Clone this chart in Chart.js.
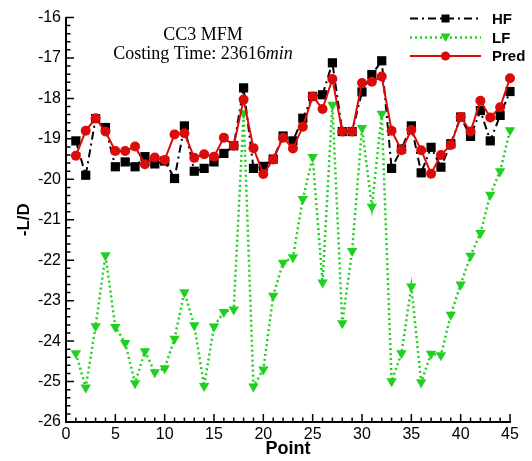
<!DOCTYPE html>
<html>
<head>
<meta charset="utf-8">
<script src="https://cdn.jsdelivr.net/npm/chart.js@4/dist/chart.umd.min.js"></script>
<style>
  body { margin: 0; background: #fff; }
  canvas { display: block; }
</style>
</head>
<body>
<canvas id="chart" width="532" height="461"></canvas>
<script>
// values, point 1..45
const points = Array.from({ length: 45 }, (_, i) => i + 1);
const hf = [-19.05, -19.9, -18.5, -18.72, -19.69, -19.57, -19.69, -19.44, -19.62, -19.55,
  -19.98, -18.68, -19.8, -19.73, -19.57, -19.36, -19.17, -17.74, -19.73, -19.68,
  -19.5, -18.93, -19.05, -18.49, -17.95, -17.91, -17.12, -18.82, -18.82, -17.84,
  -17.41, -17.07, -19.73, -19.25, -18.68, -19.84, -19.21, -19.7, -19.12, -18.46,
  -18.94, -18.3, -19.05, -18.42, -17.83];
const lf = [-24.3, -25.15, -23.63, -21.88, -23.65, -24.05, -25.04, -24.25, -24.77, -24.67,
  -23.94, -22.79, -23.61, -25.11, -23.64, -23.28, -23.22, -18.37, -25.12, -24.7,
  -22.88, -22.06, -21.93, -20.49, -19.45, -22.55, -18.16, -23.56, -21.77, -18.73,
  -20.68, -18.38, -24.99, -24.3, -22.65, -25.02, -24.31, -24.35, -23.35, -22.6,
  -21.89, -21.33, -20.38, -19.8, -18.79];
const pred = [-19.42, -18.8, -18.49, -18.82, -19.3, -19.3, -19.19, -19.63, -19.46, -19.52,
  -18.89, -18.86, -19.47, -19.38, -19.44, -18.97, -19.17, -18.03, -19.23, -19.87,
  -19.51, -18.97, -19.24, -18.7, -17.95, -18.26, -17.52, -18.82, -18.82, -17.62,
  -17.59, -17.46, -18.8, -19.28, -18.78, -19.28, -19.86, -19.4, -19.15, -18.46,
  -18.82, -18.06, -18.47, -18.22, -17.5];
const seriesNames = ['HF', 'LF', 'Pred'];
const titleLines = ['CC3 MFM', 'Costing Time: 23616', 'min'];

const BLACK = '#000000';
const GREEN = '#1fd01f';
const RED = '#dc0b0b';

const toXY = vals => vals.map((v, i) => ({ x: points[i], y: v }));

// inward major/minor ticks like the original plot
const tickPlugin = {
  id: 'inTicks',
  afterDraw(chart) {
    const { ctx, scales: { x, y } } = chart;
    ctx.save();
    ctx.strokeStyle = BLACK;
    ctx.lineWidth = 1.5;
    ctx.beginPath();
    for (let v = 0; v <= 45; v++) {
      const px = x.getPixelForValue(v);
      const len = v % 5 === 0 ? 8 : 4.5;
      ctx.moveTo(px, y.bottom);
      ctx.lineTo(px, y.bottom - len);
    }
    for (let k = 0; k <= 50; k++) {
      const v = -26 + k * 0.2;
      const py = y.getPixelForValue(v);
      const len = k % 5 === 0 ? 8 : 4.5;
      ctx.moveTo(x.left, py);
      ctx.lineTo(x.left + len, py);
    }
    ctx.stroke();
    ctx.restore();
  }
};

function drawMarker(ctx, style, cx, cy, r, color) {
  ctx.fillStyle = color;
  ctx.beginPath();
  if (style === 'rect') {
    ctx.rect(cx - r, cy - r, 2 * r, 2 * r);
  } else if (style === 'tri') {
    ctx.moveTo(cx - r, cy - r * 0.8);
    ctx.lineTo(cx + r, cy - r * 0.8);
    ctx.lineTo(cx, cy + r * 0.9);
    ctx.closePath();
  } else {
    ctx.arc(cx, cy, r, 0, Math.PI * 2);
  }
  ctx.fill();
}

const legendPlugin = {
  id: 'lineLegend',
  afterDraw(chart) {
    const { ctx } = chart;
    const rows = [
      { y: 18.5, color: BLACK, dash: [8, 4, 2, 4], width: 2, marker: 'rect', r: 4 },
      { y: 37.5, color: GREEN, dash: [2, 3], width: 2.5, marker: 'tri', r: 5 },
      { y: 56, color: RED, dash: [], width: 2, marker: 'circle', r: 4.5 }
    ];
    ctx.save();
    rows.forEach((row, i) => {
      ctx.strokeStyle = row.color;
      ctx.lineWidth = row.width;
      ctx.setLineDash(row.dash);
      ctx.beginPath();
      ctx.moveTo(410, row.y);
      ctx.lineTo(481, row.y);
      ctx.stroke();
      ctx.setLineDash([]);
      drawMarker(ctx, row.marker, 445.5, row.y, row.r, row.color);
      ctx.fillStyle = BLACK;
      ctx.font = 'bold 15px "Liberation Sans", Arial, sans-serif';
      ctx.textBaseline = 'middle';
      ctx.textAlign = 'left';
      ctx.fillText(seriesNames[i], 492, row.y + 1);
    });
    ctx.restore();
  }
};

const notePlugin = {
  id: 'note',
  afterDraw(chart) {
    const { ctx } = chart;
    const cx = 203;
    ctx.save();
    ctx.fillStyle = BLACK;
    ctx.textBaseline = 'alphabetic';
    const regular = '18px "Liberation Serif", "Times New Roman", serif';
    const italic = 'italic 18px "Liberation Serif", "Times New Roman", serif';
    ctx.font = regular;
    ctx.textAlign = 'center';
    ctx.fillText(titleLines[0], cx, 40);
    const w1 = ctx.measureText(titleLines[1]).width;
    ctx.font = italic;
    const w2 = ctx.measureText(titleLines[2]).width;
    const x0 = cx - (w1 + w2) / 2;
    ctx.textAlign = 'left';
    ctx.font = regular;
    ctx.fillText(titleLines[1], x0, 59);
    ctx.font = italic;
    ctx.fillText(titleLines[2], x0 + w1, 59);
    ctx.restore();
  }
};

const tickFont = { family: '"Liberation Sans", Arial, sans-serif', size: 16 };

new Chart(document.getElementById('chart'), {
  type: 'line',
  data: {
    datasets: [
      {
        label: seriesNames[0], data: toXY(hf), order: 2,
        borderColor: BLACK, backgroundColor: BLACK, borderWidth: 2,
        borderDash: [8, 4, 2, 4], pointStyle: 'rect', pointRadius: 6.5,
        pointBorderWidth: 0, clip: false
      },
      {
        label: seriesNames[1], data: toXY(lf), order: 1,
        borderColor: GREEN, backgroundColor: GREEN, borderWidth: 2.5,
        borderDash: [2, 3], pointStyle: 'triangle', pointRotation: 180, pointRadius: 6,
        pointBorderWidth: 0, clip: false
      },
      {
        label: seriesNames[2], data: toXY(pred), order: 0,
        borderColor: RED, backgroundColor: RED, borderWidth: 2,
        pointStyle: 'circle', pointRadius: 5, pointBorderWidth: 0, clip: false
      }
    ]
  },
  options: {
    responsive: false,
    animation: false,
    layout: { padding: { top: 17.5, right: 22, left: 0, bottom: 0 } },
    plugins: { legend: { display: false }, tooltip: { enabled: false } },
    elements: { line: { tension: 0 } },
    scales: {
      x: {
        type: 'linear', min: 0, max: 45,
        afterFit: s => { s.height = 39; },
        grid: { display: false, drawTicks: false },
        border: { display: true, color: BLACK, width: 2 },
        ticks: { stepSize: 5, color: BLACK, font: tickFont, padding: 3, maxRotation: 0 },
        title: {
          display: true, text: 'Point', color: BLACK,
          font: { family: '"Liberation Sans", Arial, sans-serif', size: 18, weight: 'bold' },
          padding: { top: 0, bottom: 1 }
        }
      },
      y: {
        min: -26, max: -16,
        afterFit: s => { s.width = 66; },
        grid: { display: false, drawTicks: false },
        border: { display: true, color: BLACK, width: 2 },
        ticks: { stepSize: 1, color: BLACK, font: tickFont, padding: 5 },
        title: {
          display: true, text: '-L/D', color: BLACK,
          font: { family: '"Liberation Sans", Arial, sans-serif', size: 17, weight: 'bold' },
          padding: { top: 14, bottom: 0 }
        }
      }
    }
  },
  plugins: [tickPlugin, legendPlugin, notePlugin]
});
</script>
</body>
</html>
